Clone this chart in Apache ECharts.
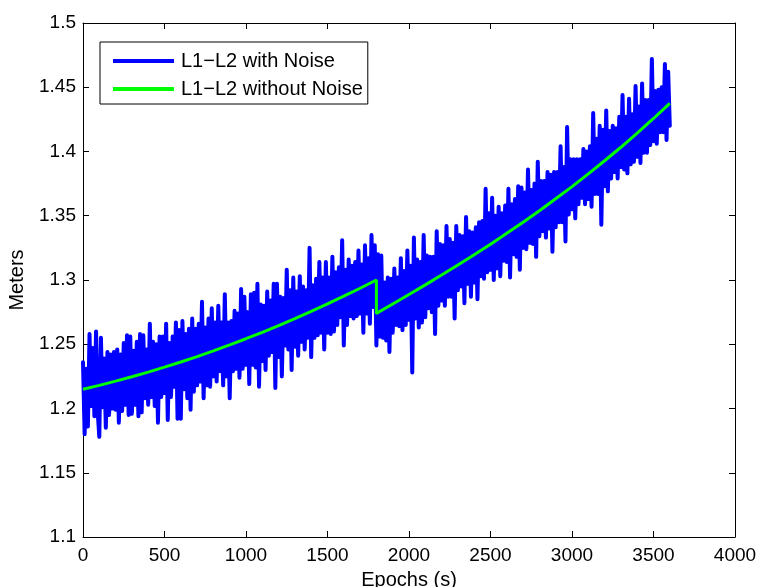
<!DOCTYPE html>
<html><head><meta charset="utf-8">
<script src="https://cdn.jsdelivr.net/npm/echarts@6/dist/echarts.min.js"></script>
<style>html,body{margin:0;padding:0;background:#fff}#c{width:758px;height:587px}</style>
</head><body><div id="c"></div>
<script>
// ---- axes ----
const xMin = 0, xMax = 4000, xStep = 500;
const yMin = 1.1, yMax = 1.5, yStep = 0.05;
const seriesNames = ['L1\u2212L2 with Noise', 'L1\u2212L2 without Noise'];

// ---- noisy series: sampled every 10 s starting at 0 s ----
const noiseStart = 0, noiseStep = 10;
const noiseValues = [
1.236,1.180,1.231,1.186,1.258,1.202,1.247,1.194,1.260,1.198,
1.178,1.255,1.201,1.239,1.185,1.244,1.195,1.242,1.200,1.244,
1.199,1.246,1.189,1.242,1.198,1.251,1.203,1.257,1.195,1.256,
1.196,1.245,1.203,1.252,1.194,1.258,1.197,1.257,1.208,1.246,
1.203,1.266,1.209,1.252,1.202,1.250,1.189,1.256,1.209,1.256,
1.212,1.266,1.191,1.251,1.209,1.256,1.217,1.267,1.192,1.261,
1.192,1.268,1.215,1.258,1.208,1.262,1.199,1.270,1.213,1.262,
1.218,1.266,1.221,1.283,1.208,1.263,1.218,1.270,1.217,1.278,
1.225,1.267,1.221,1.280,1.229,1.267,1.218,1.289,1.225,1.267,
1.208,1.268,1.229,1.276,1.231,1.274,1.224,1.293,1.231,1.287,
1.234,1.275,1.219,1.289,1.234,1.290,1.232,1.297,1.217,1.281,
1.237,1.280,1.230,1.291,1.241,1.284,1.244,1.297,1.216,1.297,
1.240,1.287,1.225,1.286,1.249,1.308,1.246,1.292,1.230,1.302,
1.248,1.291,1.241,1.303,1.252,1.295,1.246,1.292,1.255,1.325,
1.240,1.296,1.255,1.301,1.257,1.314,1.259,1.302,1.246,1.314,
1.259,1.302,1.258,1.318,1.260,1.306,1.265,1.310,1.271,1.331,
1.249,1.308,1.265,1.316,1.272,1.311,1.270,1.314,1.272,1.323,
1.274,1.312,1.259,1.327,1.274,1.317,1.266,1.335,1.279,1.327,
1.249,1.320,1.256,1.319,1.255,1.298,1.253,1.302,1.244,1.301,
1.259,1.309,1.265,1.302,1.264,1.317,1.261,1.307,1.265,1.323,
1.269,1.311,1.228,1.333,1.270,1.316,1.263,1.314,1.267,1.335,
1.271,1.319,1.278,1.318,1.275,1.318,1.258,1.338,1.280,1.328,
1.284,1.327,1.280,1.342,1.287,1.332,1.287,1.329,1.270,1.342,
1.292,1.335,1.295,1.334,1.282,1.349,1.297,1.338,1.287,1.337,
1.298,1.341,1.285,1.345,1.303,1.346,1.301,1.371,1.306,1.352,
1.308,1.364,1.300,1.350,1.309,1.357,1.303,1.352,1.315,1.358,
1.314,1.371,1.302,1.359,1.320,1.363,1.318,1.373,1.308,1.372,
1.325,1.368,1.324,1.386,1.329,1.370,1.328,1.375,1.318,1.392,
1.334,1.377,1.338,1.377,1.333,1.384,1.340,1.382,1.322,1.384,
1.341,1.384,1.345,1.404,1.345,1.388,1.330,1.419,1.351,1.394,
1.355,1.394,1.348,1.394,1.359,1.394,1.364,1.402,1.359,1.400,
1.363,1.404,1.357,1.430,1.367,1.410,1.367,1.420,1.343,1.417,
1.373,1.432,1.369,1.416,1.379,1.420,1.384,1.418,1.379,1.427,
1.388,1.444,1.386,1.427,1.383,1.441,1.390,1.429,1.392,1.451,
1.396,1.435,1.391,1.453,1.399,1.440,1.399,1.440,1.405,1.472,
1.408,1.447,1.406,1.448,1.415,1.450,1.415,1.468,1.409,1.462,1.420
];

// ---- noise-free series (with the step at 1800 s) ----
const cleanTimes = [0,100,200,300,400,500,600,700,800,900,1000,1100,1200,1300,1400,1500,1600,1700,1800,
                    1800,1900,2000,2100,2200,2300,2400,2500,2600,2700,2800,2900,3000,3100,3200,3300,3400,3500,3600];
const cleanValues = [1.2150,1.2180,1.2213,1.2247,1.2283,1.2322,1.2362,1.2404,1.2449,1.2495,1.2543,1.2593,1.2645,1.2700,1.2756,1.2814,1.2874,1.2936,1.3000,
                     1.2740,1.2813,1.2887,1.2962,1.3039,1.3117,1.3197,1.3279,1.3363,1.3450,1.3539,1.3632,1.3727,1.3826,1.3928,1.4033,1.4143,1.4257,1.4375];

const noiseData = noiseValues.map((v, i) => [noiseStart + i * noiseStep, v]);
const cleanData = cleanTimes.map((t, i) => [t, cleanValues[i]]);

const font = '"Liberation Sans", Arial, Helvetica, sans-serif';
const fs = 19, fsBig = 20;
const axisLine = {show: true, onZero: false, lineStyle: {color: '#000', width: 1}};
const axisTick = {show: true, inside: true, length: 6, lineStyle: {color: '#000', width: 1}};
const plain = v => String(v);

const chart = echarts.init(document.getElementById('c'), null, {renderer: 'canvas'});
chart.setOption({
  animation: false,
  backgroundColor: '#fff',
  textStyle: {fontFamily: font},
  grid: {left: 83, top: 23, right: 23, bottom: 50, show: false, containLabel: false, outerBoundsMode: 'none'},
  xAxis: [
    {type: 'value', min: xMin, max: xMax, interval: xStep, position: 'bottom',
     axisLine, axisTick, splitLine: {show: false},
     axisLabel: {color: '#000', fontSize: fs, fontFamily: font, margin: 9, formatter: plain},
     name: 'Epochs (s)', nameLocation: 'middle', nameGap: 33,
     nameTextStyle: {color: '#000', fontSize: fsBig, fontFamily: font}},
    {type: 'value', min: xMin, max: xMax, interval: xStep, position: 'top',
     axisLine, axisTick, splitLine: {show: false}, axisLabel: {show: false}}
  ],
  yAxis: [
    {type: 'value', min: yMin, max: yMax, interval: yStep, position: 'left',
     axisLine, axisTick, splitLine: {show: false},
     axisLabel: {color: '#000', fontSize: fs, fontFamily: font, margin: 7, formatter: plain},
     name: 'Meters', nameLocation: 'middle', nameGap: 56, nameRotate: 90,
     nameTextStyle: {color: '#000', fontSize: fsBig, fontFamily: font}},
    {type: 'value', min: yMin, max: yMax, interval: yStep, position: 'right',
     axisLine, axisTick, splitLine: {show: false}, axisLabel: {show: false}}
  ],
  legend: {
    orient: 'vertical', left: 100, top: 42,
    padding: [9, 5, 5, 13],
    itemWidth: 61, itemHeight: 4, itemGap: 8, icon: 'rect',
    backgroundColor: '#fff', borderColor: '#000', borderWidth: 1, borderRadius: 0,
    textStyle: {color: '#000', fontSize: fsBig, fontFamily: font, lineHeight: 20, padding: [0, 0, 0, 2]},
    data: seriesNames
  },
  series: [
    {name: seriesNames[0], type: 'line', data: noiseData, symbol: 'none', z: 2,
     lineStyle: {color: '#0000ff', width: 4, join: 'round', cap: 'round'}, itemStyle: {color: '#0000ff'}},
    {name: seriesNames[1], type: 'line', data: cleanData, symbol: 'none', z: 3,
     lineStyle: {color: '#00ff00', width: 3}, itemStyle: {color: '#00ff00'}}
  ]
});
</script></body></html>
